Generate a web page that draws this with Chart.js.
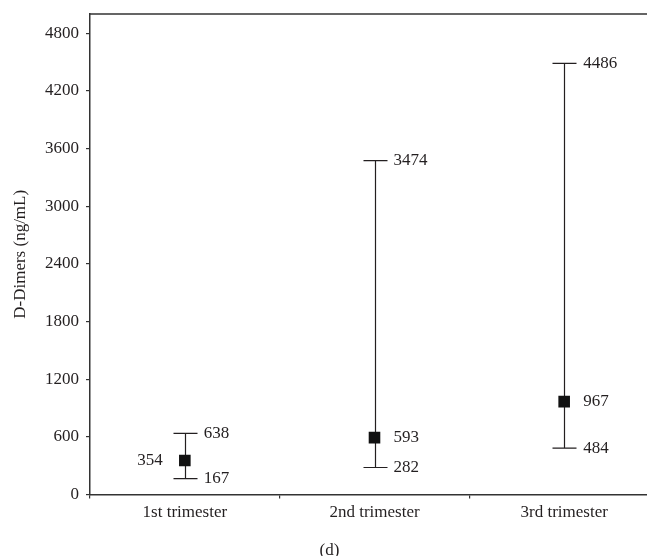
<!DOCTYPE html>
<html>
<head>
<meta charset="utf-8">
<script src="https://cdn.jsdelivr.net/npm/chart.js@4"></script>
<style>
  html, body { margin: 0; padding: 0; background: #fff; overflow: hidden; }
  #wrap { width: 647px; height: 556px; overflow: hidden; }
  #wrap div { width: 670px; height: 556px; }
</style>
</head>
<body>
<div id="wrap"><div><canvas id="ddChart"></canvas></div></div>
<script>
var categories = ["1st trimester", "2nd trimester", "3rd trimester"];
var medians = [354, 593, 967];
var lows = [167, 282, 484];
var highs = [638, 3474, 4486];
var yTicks = [0, 600, 1200, 1800, 2400, 3000, 3600, 4200, 4800];
// which side the median label goes on
var medianLabelSide = ["left", "right", "right"];

var ink = "#231f20";
var serif = "'Liberation Serif', 'DejaVu Serif', serif";

var rangePlugin = {
    id: "rangeBars",
    beforeDatasetsDraw: function(chart) {
        var ctx = chart.ctx;
        var x = chart.scales.x, y = chart.scales.y;
        ctx.save();
        ctx.strokeStyle = ink;
        ctx.lineWidth = 1.2;
        for (var i = 0; i < categories.length; i++) {
            var px = Math.round(x.getPixelForValue(i)) + 0.5;
            var top = y.getPixelForValue(highs[i]);
            var bot = y.getPixelForValue(lows[i]);
            ctx.beginPath();
            ctx.moveTo(px, top); ctx.lineTo(px, bot);
            ctx.moveTo(px - 12, top); ctx.lineTo(px + 12, top);
            ctx.moveTo(px - 12, bot); ctx.lineTo(px + 12, bot);
            ctx.stroke();
        }
        ctx.restore();
    },
    afterDatasetsDraw: function(chart) {
        var ctx = chart.ctx;
        var x = chart.scales.x, y = chart.scales.y;
        ctx.save();
        ctx.fillStyle = ink;
        ctx.font = "17px " + serif;
        ctx.textBaseline = "middle";
        for (var i = 0; i < categories.length; i++) {
            var px = x.getPixelForValue(i);
            ctx.textAlign = "left";
            ctx.fillText(highs[i], px + 19, y.getPixelForValue(highs[i]));
            ctx.fillText(lows[i], px + 19, y.getPixelForValue(lows[i]));
            if (medianLabelSide[i] == "left") {
                ctx.textAlign = "right";
                ctx.fillText(medians[i], px - 22, y.getPixelForValue(medians[i]));
            } else {
                ctx.fillText(medians[i], px + 19, y.getPixelForValue(medians[i]));
            }
        }
        // top and right frame lines
        var a = chart.chartArea;
        ctx.strokeStyle = "#333";
        ctx.lineWidth = 1.5;
        ctx.beginPath();
        ctx.moveTo(a.left, a.top);
        ctx.lineTo(a.right, a.top);
        ctx.lineTo(a.right, a.bottom);
        ctx.stroke();
        ctx.restore();
    }
};

var chart = new Chart(document.getElementById("ddChart"), {
    type: "line",
    data: {
        labels: categories,
        datasets: [{
            label: "Median",
            data: medians,
            showLine: false,
            pointStyle: "rect",
            pointRadius: 8.2,
            pointHoverRadius: 8.2,
            backgroundColor: "#111",
            borderColor: "#111",
            borderWidth: 0
        }]
    },
    options: {
        responsive: true,
        maintainAspectRatio: false,
        animation: false,
        events: [],
        layout: { padding: { left: 0, right: 11, top: 14, bottom: 0 } },
        plugins: {
            legend: { display: false },
            tooltip: { enabled: false },
            title: {
                display: true,
                text: "(d)",
                position: "bottom",
                color: ink,
                font: { family: serif, size: 17, weight: "normal", lineHeight: 1.0 },
                padding: { top: 15, bottom: -3 }
            }
        },
        scales: {
            x: {
                offset: true,
                grid: { display: true, drawOnChartArea: false, offset: true, tickLength: 4, color: "#333", lineWidth: 1.2 },
                border: { color: "#333", width: 1.5 },
                ticks: { color: ink, font: { family: serif, size: 17 }, padding: 4, maxRotation: 0 }
            },
            y: {
                min: 0,
                max: 5000,
                afterFit: function(s) {
                    s.width = 90;
                    s.paddingTop = 0;
                    s.paddingBottom = 0;
                },
                afterBuildTicks: function(s) {
                    s.ticks = yTicks.map(function(v) { return { value: v }; });
                },
                ticks: {
                    color: ink,
                    font: { family: serif, size: 17 },
                    padding: 7,
                    callback: function(v) { return String(v); }
                },
                grid: { display: true, drawOnChartArea: false, tickLength: 4, color: "#333", lineWidth: 1.2 },
                border: { color: "#333", width: 1.5 },
                title: {
                    display: true,
                    text: "D-Dimers (ng/mL)",
                    color: ink,
                    font: { family: serif, size: 17 },
                    padding: { top: 10, bottom: 0 }
                }
            }
        }
    },
    plugins: [rangePlugin]
});
</script>
</body>
</html>
